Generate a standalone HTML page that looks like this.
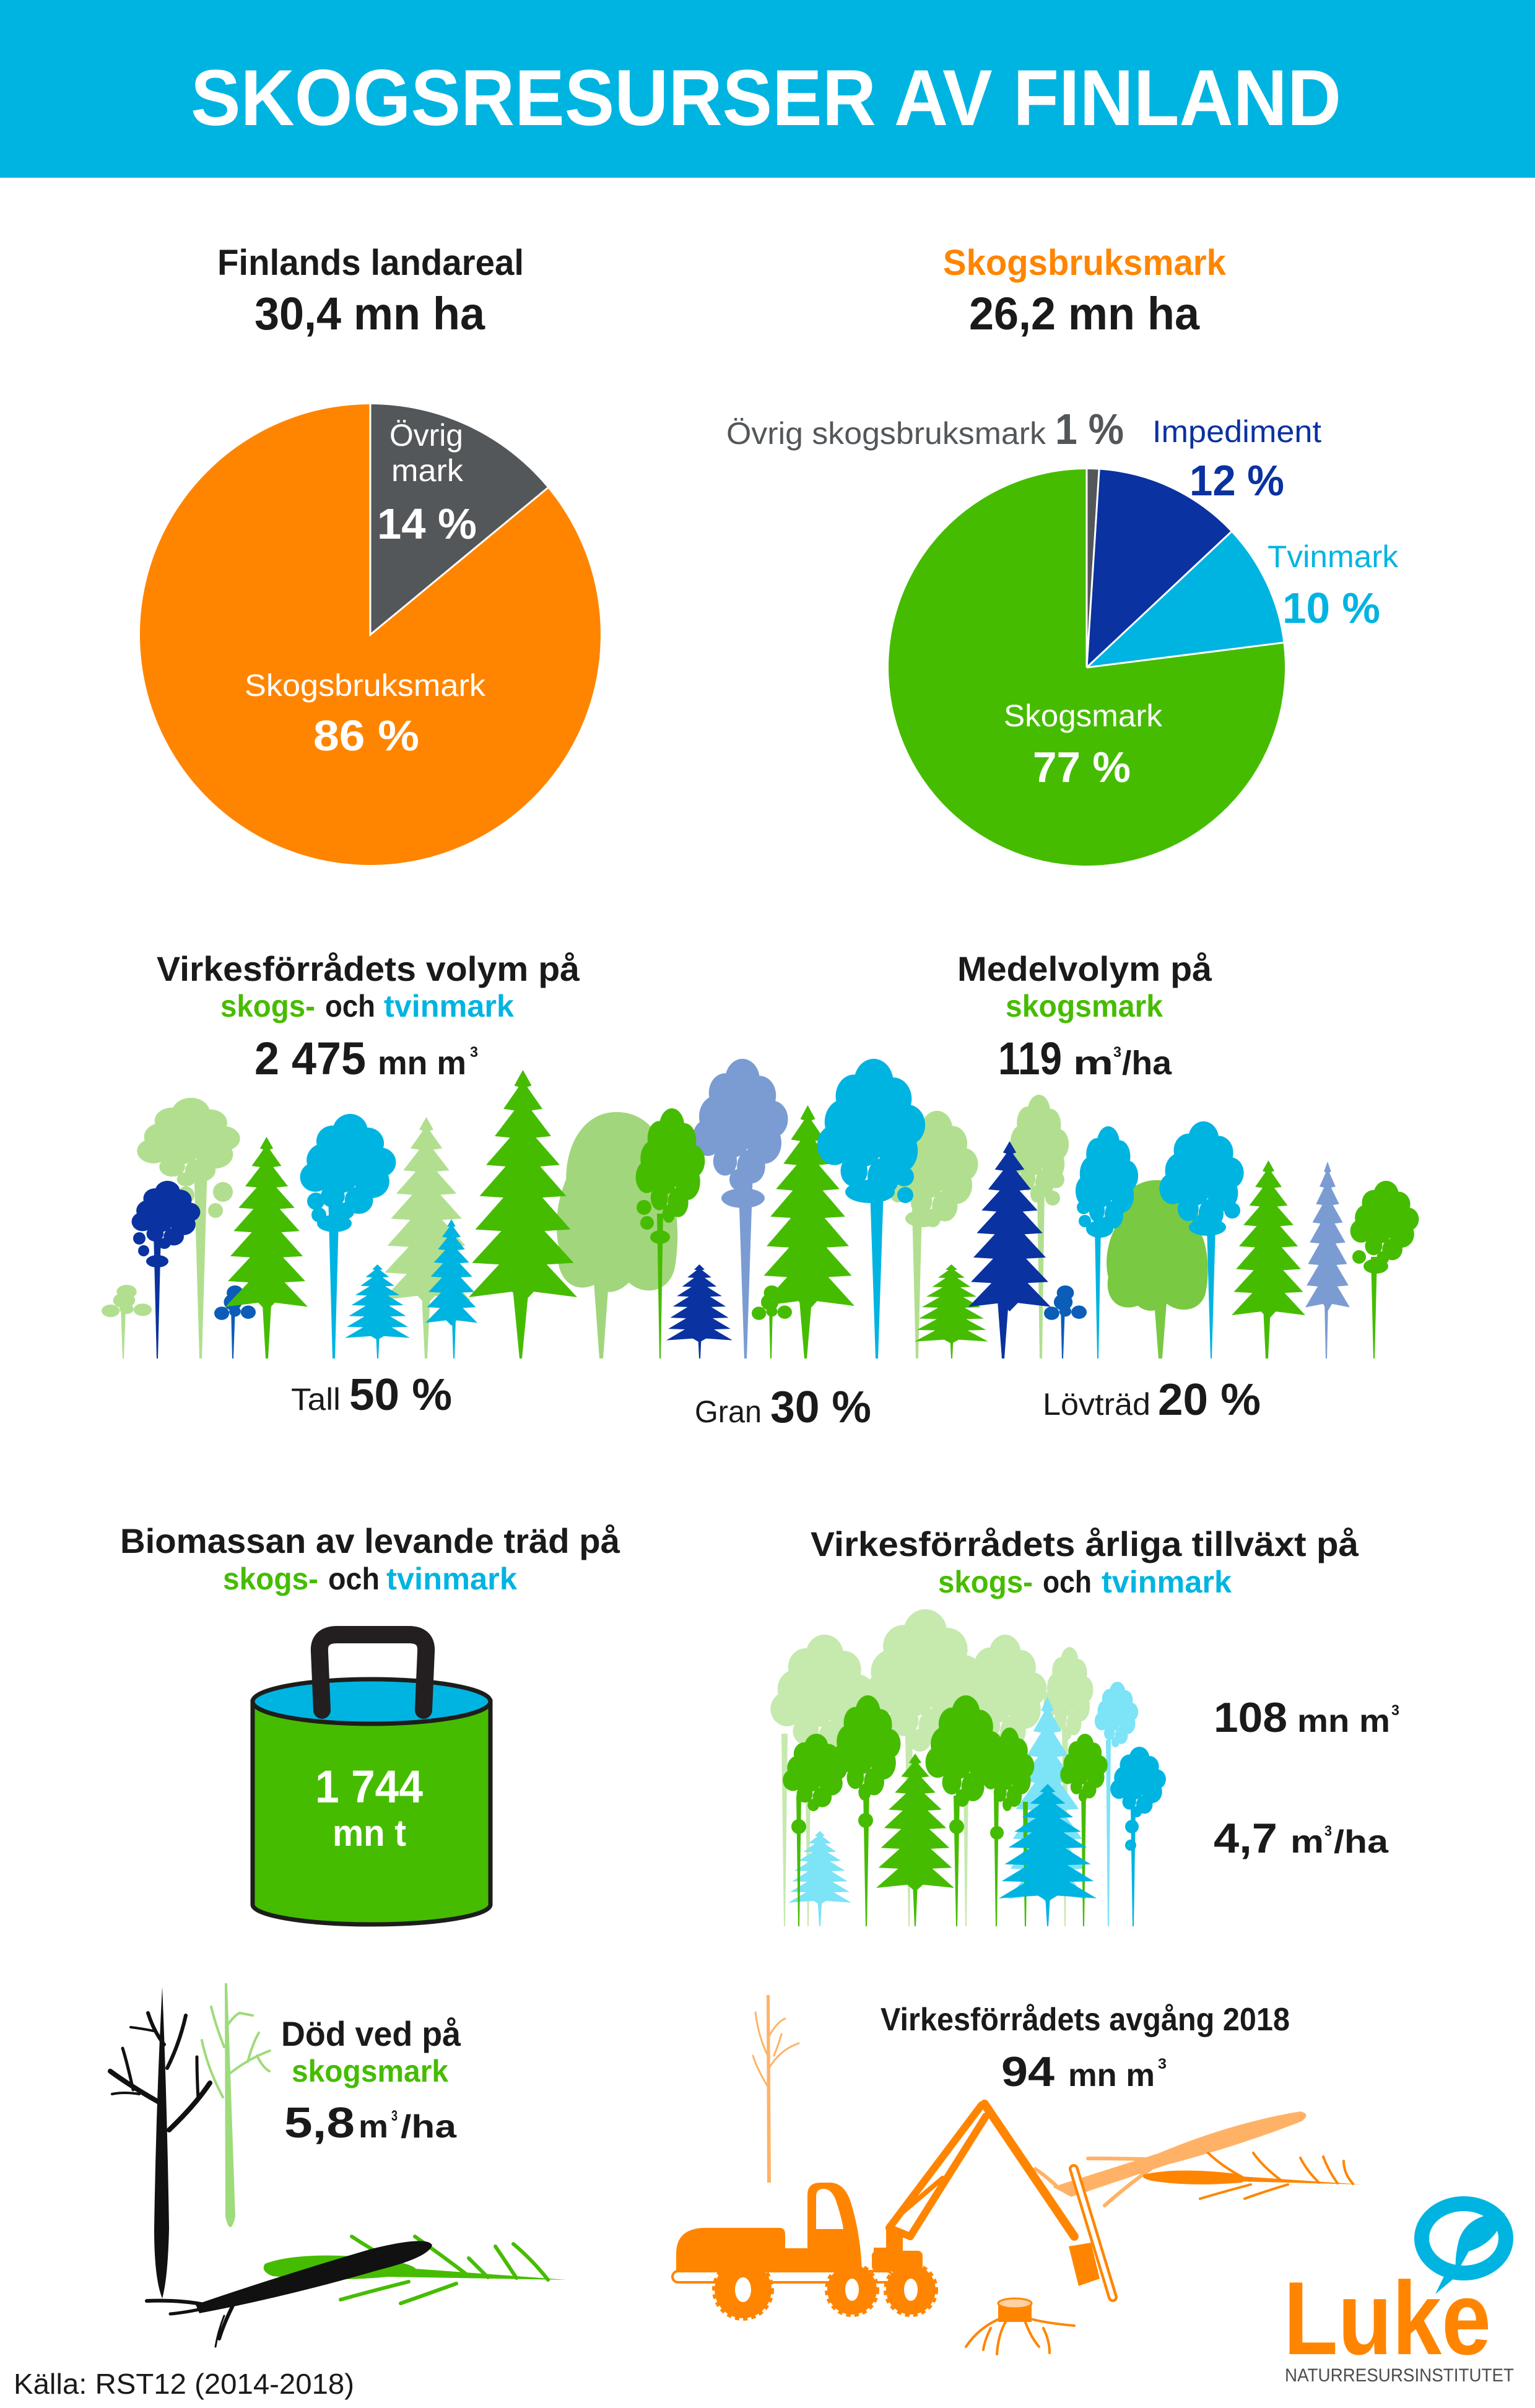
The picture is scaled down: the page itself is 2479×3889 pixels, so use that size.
<!DOCTYPE html>
<html><head><meta charset="utf-8"><style>
html,body{margin:0;padding:0;background:#fff;}
svg{display:block;}
text{font-family:"Liberation Sans",Arial,sans-serif;}
.b{font-weight:700;}
</style></head><body>
<svg width="2479" height="3889" viewBox="0 0 2479 3889" xmlns="http://www.w3.org/2000/svg">
<defs>
<symbol id="spr" viewBox="0 0 100 300" preserveAspectRatio="none">
<path d="M50 0 L58 20 L54 22 L68 50 L58 52 L76 85 L62 87 L84 122 L66 124 L90 162 L68 164 L94 205 L70 207 L97 248 L72 250 L100 292 L60 285 L50 300 L40 285 L0 292 L28 250 L3 248 L30 207 L6 205 L32 164 L10 162 L34 124 L16 122 L38 87 L24 85 L42 52 L32 50 L46 22 L42 20 Z"/>
</symbol>
<symbol id="pc" viewBox="0 0 100 100" preserveAspectRatio="none">
<circle cx="52" cy="16" r="16"/><circle cx="36" cy="26" r="15"/><circle cx="68" cy="28" r="15"/><circle cx="28" cy="44" r="16"/><circle cx="56" cy="40" r="18"/><circle cx="80" cy="46" r="14"/><circle cx="20" cy="60" r="14"/><circle cx="44" cy="60" r="15"/><circle cx="72" cy="64" r="16"/><circle cx="36" cy="78" r="11"/><circle cx="60" cy="82" r="13"/><circle cx="48" cy="92" r="8"/>
</symbol>
<symbol id="dec" viewBox="0 0 100 150" preserveAspectRatio="none">
<path d="M50 0 C80 0 92 30 92 60 C100 80 100 110 96 130 C90 150 70 150 60 140 C50 150 40 150 32 142 C15 150 0 135 4 110 C0 90 4 70 10 55 C10 25 25 0 50 0Z"/>
</symbol>
<symbol id="sap" viewBox="0 0 100 100" preserveAspectRatio="none">
<circle cx="50" cy="20" r="20"/><circle cx="45" cy="45" r="22"/><circle cx="18" cy="75" r="18"/><circle cx="82" cy="72" r="18"/><circle cx="50" cy="70" r="14"/>
</symbol>
</defs>

<!-- Header -->
<rect x="0" y="0" width="2479" height="287" fill="#00b4e1"/>
<text class="b" x="308" y="202" font-size="128" fill="#fff" textLength="1858" lengthAdjust="spacingAndGlyphs">SKOGSRESURSER AV FINLAND</text>

<!-- Section 1 headings -->
<text class="b" x="351" y="444" font-size="58" fill="#1a1a1a" textLength="495" lengthAdjust="spacingAndGlyphs">Finlands landareal</text>
<text class="b" x="411" y="532" font-size="74" fill="#1a1a1a" textLength="372" lengthAdjust="spacingAndGlyphs">30,4 mn ha</text>
<text class="b" x="1523" y="444" font-size="58" fill="#ff8500" textLength="457" lengthAdjust="spacingAndGlyphs">Skogsbruksmark</text>
<text class="b" x="1565" y="532" font-size="74" fill="#1a1a1a" textLength="372" lengthAdjust="spacingAndGlyphs">26,2 mn ha</text>

<!-- Left pie -->
<path d="M598 1025 L884.6 787.9 A372 372 0 1 1 598 653 Z" fill="#ff8500"/>
<path d="M598 1025 L598 653 A372 372 0 0 1 884.6 787.9 Z" fill="#53575a"/>
<path d="M598 653 L598 1025 L884.6 787.9" fill="none" stroke="#fff" stroke-width="3"/>
<text x="629" y="720" font-size="50" fill="#fff" textLength="119" lengthAdjust="spacingAndGlyphs">Övrig</text>
<text x="632" y="777" font-size="50" fill="#fff" textLength="116" lengthAdjust="spacingAndGlyphs">mark</text>
<text class="b" x="609" y="870" font-size="70" fill="#fff" textLength="161" lengthAdjust="spacingAndGlyphs">14 %</text>
<text x="395" y="1124" font-size="50" fill="#fff" textLength="389" lengthAdjust="spacingAndGlyphs">Skogsbruksmark</text>
<text class="b" x="506" y="1212" font-size="70" fill="#fff" textLength="171" lengthAdjust="spacingAndGlyphs">86 %</text>

<!-- Right pie -->
<path d="M1755 1078 L2072.5 1037.9 A320 320 0 1 1 1755 758 Z" fill="#46bc00"/>
<path d="M1755 1078 L1755 758 A320 320 0 0 1 1775.1 758.6 Z" fill="#53575a"/>
<path d="M1755 1078 L1775.1 758.6 A320 320 0 0 1 1988.3 859 Z" fill="#0a32a0"/>
<path d="M1755 1078 L1988.3 859 A320 320 0 0 1 2072.5 1037.9 Z" fill="#00b4e1"/>
<path d="M1755 758 L1755 1078 L1775.1 758.6 M1755 1078 L1988.3 859 M1755 1078 L2072.5 1037.9" fill="none" stroke="#fff" stroke-width="3"/>
<text x="1173" y="717" font-size="50" fill="#53575a" textLength="516" lengthAdjust="spacingAndGlyphs">Övrig skogsbruksmark</text>
<text class="b" x="1704" y="717" font-size="70" fill="#53575a" textLength="111" lengthAdjust="spacingAndGlyphs">1 %</text>
<text x="1861" y="714" font-size="50" fill="#0a32a0" textLength="273" lengthAdjust="spacingAndGlyphs">Impediment</text>
<text class="b" x="1921" y="800" font-size="70" fill="#0a32a0" textLength="153" lengthAdjust="spacingAndGlyphs">12 %</text>
<text x="2047" y="916" font-size="50" fill="#00b4e1" textLength="211" lengthAdjust="spacingAndGlyphs">Tvinmark</text>
<text class="b" x="2071" y="1006" font-size="70" fill="#00b4e1" textLength="158" lengthAdjust="spacingAndGlyphs">10 %</text>
<text x="1621" y="1173" font-size="50" fill="#fff" textLength="256" lengthAdjust="spacingAndGlyphs">Skogsmark</text>
<text class="b" x="1668" y="1263" font-size="70" fill="#fff" textLength="158" lengthAdjust="spacingAndGlyphs">77 %</text>

<!-- Section 2 headings -->
<text class="b" x="253" y="1584" font-size="56" fill="#1a1a1a" textLength="683" lengthAdjust="spacingAndGlyphs">Virkesförrådets volym på</text>
<text class="b" x="356" y="1642" font-size="50" fill="#46bc00" textLength="153" lengthAdjust="spacingAndGlyphs">skogs-</text>
<text class="b" x="525" y="1642" font-size="50" fill="#1a1a1a" textLength="81" lengthAdjust="spacingAndGlyphs">och</text>
<text class="b" x="620" y="1642" font-size="50" fill="#00b4e1" textLength="210" lengthAdjust="spacingAndGlyphs">tvinmark</text>
<text class="b" x="411" y="1735" font-size="74" fill="#1a1a1a" textLength="180" lengthAdjust="spacingAndGlyphs">2 475</text>
<text class="b" x="610" y="1735" font-size="54" fill="#1a1a1a" textLength="143" lengthAdjust="spacingAndGlyphs">mn m</text>
<text class="b" x="759" y="1707" font-size="24" fill="#1a1a1a" textLength="13" lengthAdjust="spacingAndGlyphs">3</text>
<text class="b" x="1546" y="1584" font-size="56" fill="#1a1a1a" textLength="411" lengthAdjust="spacingAndGlyphs">Medelvolym på</text>
<text class="b" x="1624" y="1642" font-size="50" fill="#46bc00" textLength="254" lengthAdjust="spacingAndGlyphs">skogsmark</text>
<text class="b" x="1612" y="1735" font-size="74" fill="#1a1a1a" textLength="103" lengthAdjust="spacingAndGlyphs">119</text>
<text class="b" x="1733" y="1735" font-size="54" fill="#1a1a1a" textLength="65" lengthAdjust="spacingAndGlyphs">m</text>
<text class="b" x="1798" y="1707" font-size="24" fill="#1a1a1a" textLength="13" lengthAdjust="spacingAndGlyphs">3</text>
<text class="b" x="1812" y="1735" font-size="54" fill="#1a1a1a" textLength="80" lengthAdjust="spacingAndGlyphs">/ha</text>

<!-- Tree row: back layer (pale) -->
<g fill="#b2df8f">
<use href="#pc" x="210" y="1773" width="189" height="143"/>
<polygon points="313,1880 335,1880 326,2194 322,2194"/>
<circle cx="360" cy="1925" r="16"/><circle cx="348" cy="1955" r="12"/><circle cx="300" cy="1930" r="14"/>
<use href="#spr" x="617" y="1804" width="143" height="304"/>
<polygon points="681,2090 695,2090 690,2194 686,2194"/>
<use href="#pc" x="1431" y="1794" width="158" height="188"/>
<polygon points="1473,1950 1489,1950 1483,2194 1479,2194"/>
<ellipse cx="1490" cy="1968" rx="28" ry="14"/><circle cx="1455" cy="1900" r="14"/><circle cx="1450" cy="1930" r="12"/>
<use href="#pc" x="1618" y="1768" width="115" height="174"/>
<polygon points="1675,1920 1687,1920 1683,2194 1679,2194"/>
<circle cx="1705" cy="1905" r="14"/><circle cx="1700" cy="1935" r="12"/>
<use href="#sap" x="164" y="2075" width="81" height="56"/>
<polygon points="195,2110 203,2110 200,2194 198,2194"/>
</g>
<g fill="#a2d67c">
<use href="#dec" x="894" y="1796" width="203" height="295"/>
<polygon points="959,2070 983,2070 974,2194 968,2194"/>
</g>
<g fill="#7b9cd2">
<use href="#pc" x="1108" y="1710" width="175" height="212"/>
<polygon points="1192,1890 1216,1890 1206,2194 1202,2194"/>
<ellipse cx="1200" cy="1935" rx="35" ry="16"/>
<use href="#spr" x="2108" y="1876" width="72" height="242"/>
<polygon points="2139,2100 2145,2100 2143,2194 2141,2194"/>
</g>
<g fill="#79c943">
<use href="#dec" x="1783" y="1906" width="170" height="214"/>
<polygon points="1863,2090 1885,2090 1877,2194 1871,2194"/>
</g>
<!-- front layer -->
<g fill="#0a32a0">
<use href="#pc" x="205" y="1907" width="126" height="110"/>
<polygon points="248,1990 260,1990 255,2194 253,2194"/>
<ellipse cx="254" cy="2037" rx="18" ry="10"/><circle cx="225" cy="2000" r="10"/><circle cx="232" cy="2020" r="9"/>
</g>
<g fill="#0b5db8">
<use href="#sap" x="346" y="2076" width="67" height="60"/>
<polygon points="373,2110 380,2110 377,2194 375,2194"/>
<use href="#sap" x="1686" y="2076" width="69" height="60"/>
<polygon points="1713,2110 1720,2110 1717,2194 1715,2194"/>
</g>
<g fill="#46bc00">
<use href="#spr" x="364" y="1836" width="133" height="282"/>
<polygon points="423,2090 439,2090 433,2194 429,2194"/>
<use href="#spr" x="757" y="1728" width="175" height="377"/>
<polygon points="828,2080 854,2080 843,2194 839,2194"/>
<use href="#pc" x="1019" y="1790" width="127" height="185"/>
<polygon points="1061,1960 1071,1960 1067,2194 1065,2194"/>
<circle cx="1040" cy="1950" r="12"/><circle cx="1045" cy="1975" r="11"/><ellipse cx="1066" cy="1998" rx="16" ry="11"/>
<use href="#spr" x="1229" y="1785" width="151" height="333"/>
<polygon points="1291,2100 1311,2100 1303,2194 1299,2194"/>
<use href="#sap" x="1214" y="2076" width="65" height="60"/>
<polygon points="1242,2110 1248,2110 1246,2194 1244,2194"/>
<use href="#spr" x="1477" y="2042" width="119" height="128"/>
<polygon points="1534,2150 1540,2150 1538,2194 1536,2194"/>
<use href="#spr" x="1989" y="1874" width="119" height="257"/>
<polygon points="2040,2110 2052,2110 2048,2194 2044,2194"/>
<use href="#pc" x="2173" y="1907" width="126" height="135"/>
<polygon points="2214,2030 2224,2030 2220,2194 2218,2194"/>
<ellipse cx="2222" cy="2045" rx="20" ry="12"/><circle cx="2195" cy="2030" r="11"/>
</g>
<g fill="#00b4e1">
<use href="#pc" x="474" y="1799" width="176" height="170"/>
<polygon points="530,1930 548,1930 541,2194 537,2194"/>
<ellipse cx="540" cy="1976" rx="28" ry="14"/><circle cx="510" cy="1940" r="14"/><circle cx="515" cy="1962" r="12"/>
<use href="#spr" x="557" y="2042" width="105" height="122"/>
<polygon points="607,2150 613,2150 611,2194 609,2194"/>
<use href="#spr" x="687" y="1969" width="84" height="172"/>
<polygon points="730,2130 736,2130 734,2194 732,2194"/>
<use href="#pc" x="1308" y="1710" width="198" height="232"/>
<polygon points="1405,1920 1427,1920 1418,2194 1414,2194"/>
<ellipse cx="1405" cy="1925" rx="40" ry="18"/><circle cx="1460" cy="1900" r="16"/><circle cx="1462" cy="1930" r="13"/>
<use href="#pc" x="1730" y="1819" width="115" height="174"/>
<polygon points="1768,1980 1778,1980 1774,2194 1772,2194"/>
<ellipse cx="1776" cy="1985" rx="22" ry="14"/><circle cx="1750" cy="1950" r="11"/><circle cx="1752" cy="1972" r="10"/>
<use href="#pc" x="1863" y="1811" width="155" height="181"/>
<polygon points="1949,1980 1963,1980 1957,2194 1955,2194"/>
<ellipse cx="1950" cy="1982" rx="30" ry="14"/><circle cx="1990" cy="1955" r="13"/>
</g>
<g fill="#0a32a0">
<use href="#spr" x="1076" y="2042" width="107" height="126"/>
<polygon points="1127,2150 1133,2150 1131,2194 1129,2194"/>
<use href="#spr" x="1564" y="1843" width="133" height="275"/>
<polygon points="1611,2100 1629,2100 1622,2194 1618,2194"/>
</g>

<text x="470" y="2277" font-size="50" fill="#1a1a1a" textLength="80" lengthAdjust="spacingAndGlyphs">Tall</text>
<text class="b" x="564" y="2277" font-size="72" fill="#1a1a1a" textLength="166" lengthAdjust="spacingAndGlyphs">50 %</text>
<text x="1122" y="2297" font-size="50" fill="#1a1a1a" textLength="108" lengthAdjust="spacingAndGlyphs">Gran</text>
<text class="b" x="1244" y="2297" font-size="72" fill="#1a1a1a" textLength="163" lengthAdjust="spacingAndGlyphs">30 %</text>
<text x="1684" y="2285" font-size="50" fill="#1a1a1a" textLength="174" lengthAdjust="spacingAndGlyphs">Lövträd</text>
<text class="b" x="1870" y="2285" font-size="72" fill="#1a1a1a" textLength="166" lengthAdjust="spacingAndGlyphs">20 %</text>

<!-- Section 3 headings -->
<text class="b" x="194" y="2508" font-size="56" fill="#1a1a1a" textLength="807" lengthAdjust="spacingAndGlyphs">Biomassan av levande träd på</text>
<text class="b" x="360" y="2567" font-size="50" fill="#46bc00" textLength="154" lengthAdjust="spacingAndGlyphs">skogs-</text>
<text class="b" x="530" y="2567" font-size="50" fill="#1a1a1a" textLength="83" lengthAdjust="spacingAndGlyphs">och</text>
<text class="b" x="624" y="2567" font-size="50" fill="#00b4e1" textLength="211" lengthAdjust="spacingAndGlyphs">tvinmark</text>
<text class="b" x="1309" y="2513" font-size="56" fill="#1a1a1a" textLength="885" lengthAdjust="spacingAndGlyphs">Virkesförrådets årliga tillväxt på</text>
<text class="b" x="1515" y="2572" font-size="50" fill="#46bc00" textLength="153" lengthAdjust="spacingAndGlyphs">skogs-</text>
<text class="b" x="1684" y="2572" font-size="50" fill="#1a1a1a" textLength="79" lengthAdjust="spacingAndGlyphs">och</text>
<text class="b" x="1779" y="2572" font-size="50" fill="#00b4e1" textLength="210" lengthAdjust="spacingAndGlyphs">tvinmark</text>

<!-- Bucket -->
<path d="M408 2748 L408 3076 A192 32 0 0 0 792 3076 L792 2748 Z" fill="#46bc00" stroke="#1d1d1b" stroke-width="7"/>
<ellipse cx="600" cy="2748" rx="192" ry="36" fill="#00b4e1" stroke="#1d1d1b" stroke-width="7"/>
<path d="M520 2762 L516 2668 Q514 2640 545 2640 L660 2640 Q690 2640 688 2668 L684 2762" fill="none" stroke="#231f20" stroke-width="28" stroke-linecap="round" stroke-linejoin="round"/>
<text class="b" x="509" y="2911" font-size="74" fill="#fff" textLength="174" lengthAdjust="spacingAndGlyphs">1 744</text>
<text class="b" x="537" y="2981" font-size="60" fill="#fff" textLength="119" lengthAdjust="spacingAndGlyphs">mn t</text>

<!-- Growth trees -->
<g fill="#c6e9ae">
<use href="#pc" x="1233" y="2640" width="190" height="200"/>
<use href="#pc" x="1380" y="2599" width="220" height="230"/>
<use href="#pc" x="1540" y="2640" width="160" height="190"/>
<use href="#pc" x="1680" y="2660" width="91" height="150"/>
<polygon points="1262,2800 1272,2800 1268,3111 1266,3111"/>
<polygon points="1300,2820 1310,2820 1306,3111 1304,3111"/>
<polygon points="1462,2800 1474,2800 1469,3111 1467,3111"/>
<polygon points="1555,2800 1565,2800 1561,3111 1559,3111"/>
<polygon points="1715,2790 1725,2790 1721,3111 1719,3111"/>
</g>
<g fill="#7de3f6">
<use href="#spr" x="1628" y="2740" width="127" height="336"/>
<use href="#pc" x="1763" y="2716" width="80" height="106"/>
<polygon points="1786,2810 1794,2810 1791,3111 1789,3111"/>
<use href="#spr" x="1273" y="2957" width="102" height="119"/>
<polygon points="1320,3060 1328,3060 1325,3111 1323,3111"/>
</g>
<g fill="#46bc00">
<use href="#pc" x="1257" y="2800" width="118" height="125"/>
<use href="#pc" x="1336" y="2738" width="126" height="170"/>
<use href="#pc" x="1486" y="2738" width="142" height="180"/>
<use href="#pc" x="1581" y="2790" width="95" height="135"/>
<use href="#pc" x="1707" y="2800" width="87" height="110"/>
<use href="#spr" x="1415" y="2832" width="126" height="223"/>
<polygon points="1286,2900 1294,2900 1291,3111 1289,3111"/>
<polygon points="1394,2890 1404,2890 1400,3111 1398,3111"/>
<polygon points="1474,3040 1482,3040 1479,3111 1477,3111"/>
<polygon points="1540,2900 1550,2900 1546,3111 1544,3111"/>
<polygon points="1605,2900 1613,2900 1610,3111 1608,3111"/>
<polygon points="1652,2910 1660,2910 1657,3111 1655,3111"/>
<polygon points="1746,2890 1754,2890 1751,3111 1749,3111"/>
<circle cx="1290" cy="2950" r="12"/><circle cx="1398" cy="2940" r="12"/><circle cx="1545" cy="2950" r="12"/><circle cx="1610" cy="2960" r="11"/>
</g>
<g fill="#00b4e1">
<use href="#spr" x="1613" y="2881" width="158" height="190"/>
<polygon points="1688,3060 1696,3060 1693,3111 1691,3111"/>
<use href="#pc" x="1787" y="2821" width="102" height="114"/>
<polygon points="1826,2920 1834,2920 1831,3111 1829,3111"/>
<circle cx="1828" cy="2950" r="11"/><circle cx="1826" cy="2980" r="9"/>
</g>

<text class="b" x="1960" y="2797" font-size="68" fill="#1a1a1a" textLength="119" lengthAdjust="spacingAndGlyphs">108</text>
<text class="b" x="2095" y="2797" font-size="52" fill="#1a1a1a" textLength="150" lengthAdjust="spacingAndGlyphs">mn m</text>
<text class="b" x="2247" y="2770" font-size="24" fill="#1a1a1a" textLength="13" lengthAdjust="spacingAndGlyphs">3</text>
<text class="b" x="1960" y="2992" font-size="68" fill="#1a1a1a" textLength="103" lengthAdjust="spacingAndGlyphs">4,7</text>
<text class="b" x="2084" y="2992" font-size="52" fill="#1a1a1a" textLength="54" lengthAdjust="spacingAndGlyphs">m</text>
<text class="b" x="2139" y="2965" font-size="24" fill="#1a1a1a" textLength="12" lengthAdjust="spacingAndGlyphs">3</text>
<text class="b" x="2154" y="2992" font-size="52" fill="#1a1a1a" textLength="88" lengthAdjust="spacingAndGlyphs">/ha</text>

<!-- Dead wood -->
<path d="M363 3203 L367 3203 L380 3580 Q372 3614 364 3580 Z" fill="#9edb7b"/>
<g fill="none" stroke="#9edb7b" stroke-width="4" stroke-linecap="round">
<path d="M362 3306 Q348 3270 341 3241"/>
<path d="M365 3274 Q378 3255 387 3251 L408 3255"/>
<path d="M367 3352 Q400 3325 436 3312"/>
<path d="M400 3330 Q408 3300 418 3283"/>
<path d="M360 3387 Q335 3340 326 3295"/>
<path d="M415 3320 Q425 3340 435 3345"/>
</g>
<path d="M262 3209 Q270 3400 273 3600 Q271 3680 262 3712 Q249 3680 249 3600 Q252 3400 262 3209 Z" fill="#111"/>
<g fill="none" stroke="#111" stroke-linecap="round">
<path d="M262 3398 Q215 3372 178 3345" stroke-width="8"/>
<path d="M215 3375 Q205 3330 198 3308" stroke-width="5"/>
<path d="M225 3382 Q200 3378 181 3382" stroke-width="4"/>
<path d="M265 3302 Q248 3280 239 3251" stroke-width="6"/>
<path d="M248 3280 Q228 3276 211 3274" stroke-width="4"/>
<path d="M270 3340 Q290 3300 300 3255" stroke-width="6"/>
<path d="M273 3440 Q315 3400 339 3364" stroke-width="8"/>
<path d="M320 3390 Q318 3350 318 3322" stroke-width="5"/>
</g>
<path d="M428 3656 Q480 3636 600 3646 Q690 3658 668 3672 Q560 3688 440 3676 Q420 3668 428 3656 Z" fill="#46bc00"/>
<path d="M560 3656 L915 3682 L560 3676 Z" fill="#46bc00"/>
<g fill="none" stroke="#46bc00" stroke-width="6" stroke-linecap="round">
<path d="M660 3664 Q610 3640 568 3612"/>
<path d="M752 3672 Q710 3640 670 3612"/>
<path d="M788 3678 Q770 3660 757 3647"/>
<path d="M834 3679 Q815 3650 800 3628"/>
<path d="M885 3682 Q860 3650 829 3624"/>
<path d="M660 3685 Q600 3700 550 3714"/>
<path d="M737 3688 Q690 3705 647 3720"/>
</g>
<path d="M316 3722 Q450 3676 600 3632 Q690 3610 698 3626 Q692 3646 612 3666 Q460 3710 322 3736 Z" fill="#111"/>
<g fill="none" stroke="#111" stroke-linecap="round">
<path d="M330 3722 Q290 3714 237 3716" stroke-width="6"/>
<path d="M340 3726 Q300 3735 275 3737" stroke-width="5"/>
<path d="M382 3712 Q362 3750 354 3777" stroke-width="6"/>
<path d="M362 3740 Q352 3765 348 3790" stroke-width="3"/>
</g>

<text class="b" x="454" y="3304" font-size="56" fill="#1a1a1a" textLength="290" lengthAdjust="spacingAndGlyphs">Död ved på</text>
<text class="b" x="471" y="3362" font-size="50" fill="#46bc00" textLength="253" lengthAdjust="spacingAndGlyphs">skogsmark</text>
<text class="b" x="459" y="3452" font-size="70" fill="#1a1a1a" textLength="114" lengthAdjust="spacingAndGlyphs">5,8</text>
<text class="b" x="579" y="3452" font-size="52" fill="#1a1a1a" textLength="48" lengthAdjust="spacingAndGlyphs">m</text>
<text class="b" x="632" y="3425" font-size="24" fill="#1a1a1a" textLength="10" lengthAdjust="spacingAndGlyphs">3</text>
<text class="b" x="647" y="3452" font-size="52" fill="#1a1a1a" textLength="90" lengthAdjust="spacingAndGlyphs">/ha</text>

<!-- Harvest -->
<text class="b" x="1422" y="3279" font-size="52" fill="#1a1a1a" textLength="661" lengthAdjust="spacingAndGlyphs">Virkesförrådets avgång 2018</text>
<text class="b" x="1617" y="3369" font-size="68" fill="#1a1a1a" textLength="86" lengthAdjust="spacingAndGlyphs">94</text>
<text class="b" x="1725" y="3369" font-size="52" fill="#1a1a1a" textLength="140" lengthAdjust="spacingAndGlyphs">mn m</text>
<text class="b" x="1870" y="3341" font-size="24" fill="#1a1a1a" textLength="14" lengthAdjust="spacingAndGlyphs">3</text>

<!-- sapling light orange -->
<path d="M1238 3222 L1243 3222 L1245 3525 L1239 3525 Z" fill="#ffb266"/>
<g fill="none" stroke="#ffb266" stroke-width="3" stroke-linecap="round">
<path d="M1240 3320 Q1225 3290 1220 3250"/>
<path d="M1241 3290 Q1255 3265 1268 3260"/>
<path d="M1242 3340 Q1260 3310 1290 3300"/>
<path d="M1240 3370 Q1222 3340 1216 3320"/>
<path d="M1250 3320 Q1258 3300 1262 3285"/>
</g>
<!-- falling tree -->
<g fill="#ffb266">
<path d="M1700 3532 L1870 3478 Q1990 3428 2100 3410 Q2118 3414 2102 3426 Q2000 3466 1885 3496 L1730 3548 Z"/>
</g>
<g fill="none" stroke="#ffb266" stroke-width="6" stroke-linecap="round">
<path d="M1880 3488 Q1820 3486 1757 3486"/>
<path d="M1862 3500 Q1820 3530 1784 3562"/>
<path d="M1710 3534 Q1690 3515 1672 3503"/>
</g>
<!-- orange branch with needles -->
<path d="M1847 3512 Q1900 3500 1990 3510 Q2020 3518 2005 3525 Q1920 3532 1860 3522 Q1842 3518 1847 3512 Z" fill="#ff8500"/>
<path d="M1960 3512 L2200 3528 L1960 3522 Z" fill="#ff8500"/>
<g fill="none" stroke="#ff8500" stroke-width="4" stroke-linecap="round">
<path d="M2010 3518 Q1975 3500 1951 3477"/>
<path d="M2070 3522 Q2040 3500 2024 3477"/>
<path d="M2130 3525 Q2110 3505 2100 3485"/>
<path d="M2160 3526 Q2145 3505 2137 3483"/>
<path d="M2185 3527 Q2170 3510 2170 3490"/>
<path d="M2020 3528 Q1975 3540 1938 3551"/>
<path d="M2080 3528 Q2040 3540 2010 3551"/>
</g>
<!-- harvester body -->
<g fill="#ff8500">
<path d="M1092 3668 L1092 3640 Q1092 3598 1140 3598 L1258 3598 Q1268 3598 1268 3608 L1268 3631 L1304 3631 L1304 3545 Q1304 3525 1325 3525 L1340 3525 Q1365 3525 1375 3560 Q1390 3610 1392 3668 Z"/>
<rect x="1408" y="3635" width="82" height="33" rx="8"/>
<rect x="1411" y="3630" width="30" height="38"/>
<rect x="1431" y="3600" width="27" height="40"/>
</g>
<path d="M1318 3600 L1318 3548 Q1318 3535 1330 3535 Q1345 3535 1352 3560 Q1360 3585 1362 3600 Z" fill="#fff"/>
<rect x="1086" y="3668" width="355" height="18" rx="9" fill="#fff" stroke="#ff8500" stroke-width="4"/>
<g fill="#ff8500" stroke="#ff8500">
<circle cx="1200" cy="3698" r="46" stroke-width="8" stroke-dasharray="7 6"/>
<circle cx="1200" cy="3698" r="44" stroke="none"/>
<circle cx="1376" cy="3698" r="40" stroke-width="8" stroke-dasharray="7 6"/>
<circle cx="1376" cy="3698" r="38" stroke="none"/>
<circle cx="1471" cy="3698" r="40" stroke-width="8" stroke-dasharray="7 6"/>
<circle cx="1471" cy="3698" r="38" stroke="none"/>
</g>
<g fill="#fff">
<ellipse cx="1200" cy="3698" rx="13" ry="20"/>
<ellipse cx="1376" cy="3698" rx="11" ry="18"/>
<ellipse cx="1471" cy="3698" rx="11" ry="18"/>
</g>
<!-- crane -->
<g fill="none" stroke="#ff8500" stroke-linecap="round" stroke-linejoin="round">
<path d="M1436 3598 L1585 3400" stroke-width="12"/>
<path d="M1470 3612 L1592 3418" stroke-width="12"/>
<path d="M1436 3598 L1470 3612" stroke-width="12"/>
<path d="M1447 3582 L1522 3518" stroke-width="8"/>
<path d="M1590 3398 L1735 3612" stroke-width="14"/>
<path d="M1734 3503 L1797 3710" stroke-width="16"/>
</g>
<path d="M1734 3503 L1797 3710" stroke="#fff" stroke-width="7" stroke-linecap="round"/>
<polygon points="1726,3628 1762,3622 1776,3680 1742,3692" fill="#ff8500"/>
<!-- stump -->
<rect x="1612" y="3720" width="54" height="30" fill="#ff8500"/>
<ellipse cx="1639" cy="3720" rx="27" ry="8" fill="#ffd0a0" stroke="#ff8500" stroke-width="3"/>
<g fill="none" stroke="#ff8500" stroke-width="4" stroke-linecap="round">
<path d="M1614 3745 Q1580 3760 1560 3790"/>
<path d="M1625 3748 Q1612 3770 1610 3802"/>
<path d="M1655 3748 Q1665 3775 1678 3790"/>
<path d="M1664 3745 Q1690 3752 1735 3756"/>
<path d="M1685 3760 Q1695 3780 1695 3800"/>
<path d="M1600 3760 Q1590 3780 1588 3795"/>
</g>

<!-- Luke logo -->
<ellipse cx="2364" cy="3615" rx="68" ry="56" fill="none" stroke="#00b4e1" stroke-width="24"/>
<path d="M2340 3660 L2318 3705 L2362 3668 Z" fill="#00b4e1"/>
<path d="M2430 3574 Q2370 3575 2356 3618 Q2348 3650 2352 3672 L2372 3636 Q2418 3622 2430 3574 Z" fill="#00b4e1"/>
<text class="b" x="2073" y="3802" font-size="168" fill="#ff8500" textLength="335" lengthAdjust="spacingAndGlyphs">Luke</text>
<text x="2075" y="3846" font-size="30" fill="#4d4d4d" textLength="370" lengthAdjust="spacingAndGlyphs">NATURRESURSINSTITUTET</text>

<text x="22" y="3866" font-size="46" fill="#1a1a1a" textLength="550" lengthAdjust="spacingAndGlyphs">Källa: RST12 (2014-2018)</text>
</svg>
</body></html>
